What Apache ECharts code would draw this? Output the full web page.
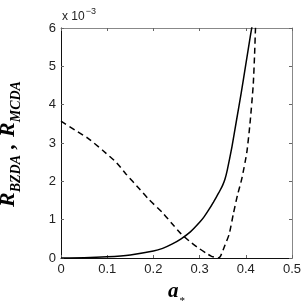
<!DOCTYPE html>
<html>
<head>
<meta charset="utf-8">
<script src="https://cdn.jsdelivr.net/npm/echarts@6/dist/echarts.min.js"></script>
<style>
html,body{margin:0;padding:0;background:#fff;}
#chart{width:305px;height:307px;}
</style>
</head>
<body>
<div id="chart"></div>
<script>
// Data (y values in units of 1e-3)
const solidX = [0, 0.05, 0.1, 0.15, 0.2, 0.22, 0.24, 0.26, 0.28, 0.30, 0.31, 0.32, 0.33, 0.34, 0.345, 0.35, 0.355, 0.36, 0.37, 0.38, 0.39, 0.40, 0.41, 0.42];
const solidY = [0, 0.005, 0.03, 0.08, 0.18, 0.25, 0.36, 0.5, 0.68, 0.93, 1.08, 1.26, 1.46, 1.67, 1.78, 1.9, 2.06, 2.3, 2.9, 3.6, 4.3, 5.05, 5.8, 6.5];
const dashX = [0, 0.03, 0.06, 0.09, 0.12, 0.14, 0.17, 0.19, 0.22, 0.24, 0.26, 0.28, 0.30, 0.315, 0.325, 0.335, 0.34, 0.345, 0.355, 0.364, 0.373, 0.382, 0.391, 0.402, 0.409, 0.416, 0.419, 0.421, 0.423];
const dashY = [3.57, 3.34, 3.11, 2.81, 2.49, 2.2, 1.8, 1.53, 1.18, 0.9, 0.63, 0.42, 0.24, 0.12, 0.05, 0.01, 0.0, 0.04, 0.34, 0.62, 1.15, 1.64, 2.05, 2.74, 3.5, 4.5, 5.3, 6.0, 6.5];
const xTickLabels = ['0', '0.1', '0.2', '0.3', '0.4', '0.5'];
const yTickLabels = ['0', '1', '2', '3', '4', '5', '6'];

const zip = (xs, ys) => xs.map((x, i) => [x, ys[i]]);

const chart = echarts.init(document.getElementById('chart'), null, {renderer: 'canvas'});
const tickFont = {color: '#222', fontSize: 13, fontFamily: 'Liberation Sans, Arial, sans-serif'};
const serifFam = 'Liberation Serif';
const serifBI = {fontFamily: serifFam, fontWeight: 'bold', fontStyle: 'italic', color: '#000'};

const baseX = {
  type: 'value', min: 0, max: 0.5, interval: 0.1,
  splitLine: {show: false},
  axisTick: {show: true, inside: true, length: 3, lineStyle: {color: '#666'}}
};
const baseY = {
  type: 'value', min: 0, max: 6, interval: 1,
  splitLine: {show: false},
  axisTick: {show: true, inside: true, length: 3, lineStyle: {color: '#666'}}
};

function tok(text, lx, ly, size) {
  return {
    type: 'text', x: lx, y: ly,
    style: {
      text: text, align: 'left', verticalAlign: 'middle',
      font: 'italic bold ' + size + 'px "Liberation Serif"',
      fill: '#000'
    }
  };
}

chart.setOption({
  animation: false,
  backgroundColor: '#fff',
  grid: {left: 61, right: 13, top: 28, bottom: 49, containLabel: false, outerBoundsMode: 'none'},
  xAxis: [
    Object.assign({}, baseX, {
      position: 'bottom',
      axisLine: {show: true, onZero: false, lineStyle: {color: '#111', width: 1}},
      axisLabel: Object.assign({margin: 5, formatter: v => xTickLabels[Math.round(v / 0.1)]}, tickFont),
      name: '{a|a}{s|*}',
      nameLocation: 'middle',
      nameGap: 24,
      nameTextStyle: {
        rich: {
          a: Object.assign({fontSize: 21, lineHeight: 24, verticalAlign: 'bottom', padding: [0, 1, 5, 0]}, serifBI),
          s: Object.assign({fontSize: 11, lineHeight: 12, verticalAlign: 'bottom'}, serifBI, {fontStyle: 'normal', fontWeight: 'normal'})
        }
      }
    }),
    Object.assign({}, baseX, {
      position: 'top',
      axisLine: {show: true, onZero: false, lineStyle: {color: '#888', width: 1}},
      axisLabel: {show: false}
    })
  ],
  yAxis: [
    Object.assign({}, baseY, {
      position: 'left',
      axisLine: {show: true, onZero: false, lineStyle: {color: '#111', width: 1}},
      axisLabel: Object.assign({margin: 5, formatter: v => yTickLabels[Math.round(v)]}, tickFont)
    }),
    Object.assign({}, baseY, {
      position: 'right',
      axisLine: {show: true, onZero: false, lineStyle: {color: '#888', width: 1}},
      axisLabel: {show: false}
    })
  ],
  graphic: [
    {
      type: 'text',
      left: 62,
      top: 7,
      style: {
        text: '{a|x 10}{b|\u22123}',
        rich: {
          a: {fontSize: 12, lineHeight: 13, padding: [4, 1, 0, 0], fontFamily: 'Liberation Sans, Arial, sans-serif', fill: '#222', verticalAlign: 'top'},
          b: {fontSize: 9, lineHeight: 10, fontFamily: 'Liberation Sans, Arial, sans-serif', fill: '#222', verticalAlign: 'top'}
        }
      }
    },
    {
      type: 'group',
      x: 0,
      y: 207,
      rotation: Math.PI / 2,
      children: [
        tok('R', 0, 8.6, 22),
        tok('BZDA', 14.7, 16.3, 14),
        tok(',', 58, 8.6, 22),
        tok('R', 70, 8.6, 22),
        tok('MCDA', 84.7, 16.3, 14)
      ]
    }
  ],
  series: [
    {
      type: 'line', xAxisIndex: 0, yAxisIndex: 0,
      data: zip(solidX, solidY),
      showSymbol: false, symbol: 'none', smooth: 0.2, clip: true,
      lineStyle: {color: '#000', width: 1.5, type: 'solid'}
    },
    {
      type: 'line', xAxisIndex: 0, yAxisIndex: 0,
      data: zip(dashX, dashY),
      showSymbol: false, symbol: 'none', smooth: 0.2, clip: true,
      lineStyle: {color: '#000', width: 1.5, type: [6, 4]}
    }
  ]
});
</script>
</body>
</html>
